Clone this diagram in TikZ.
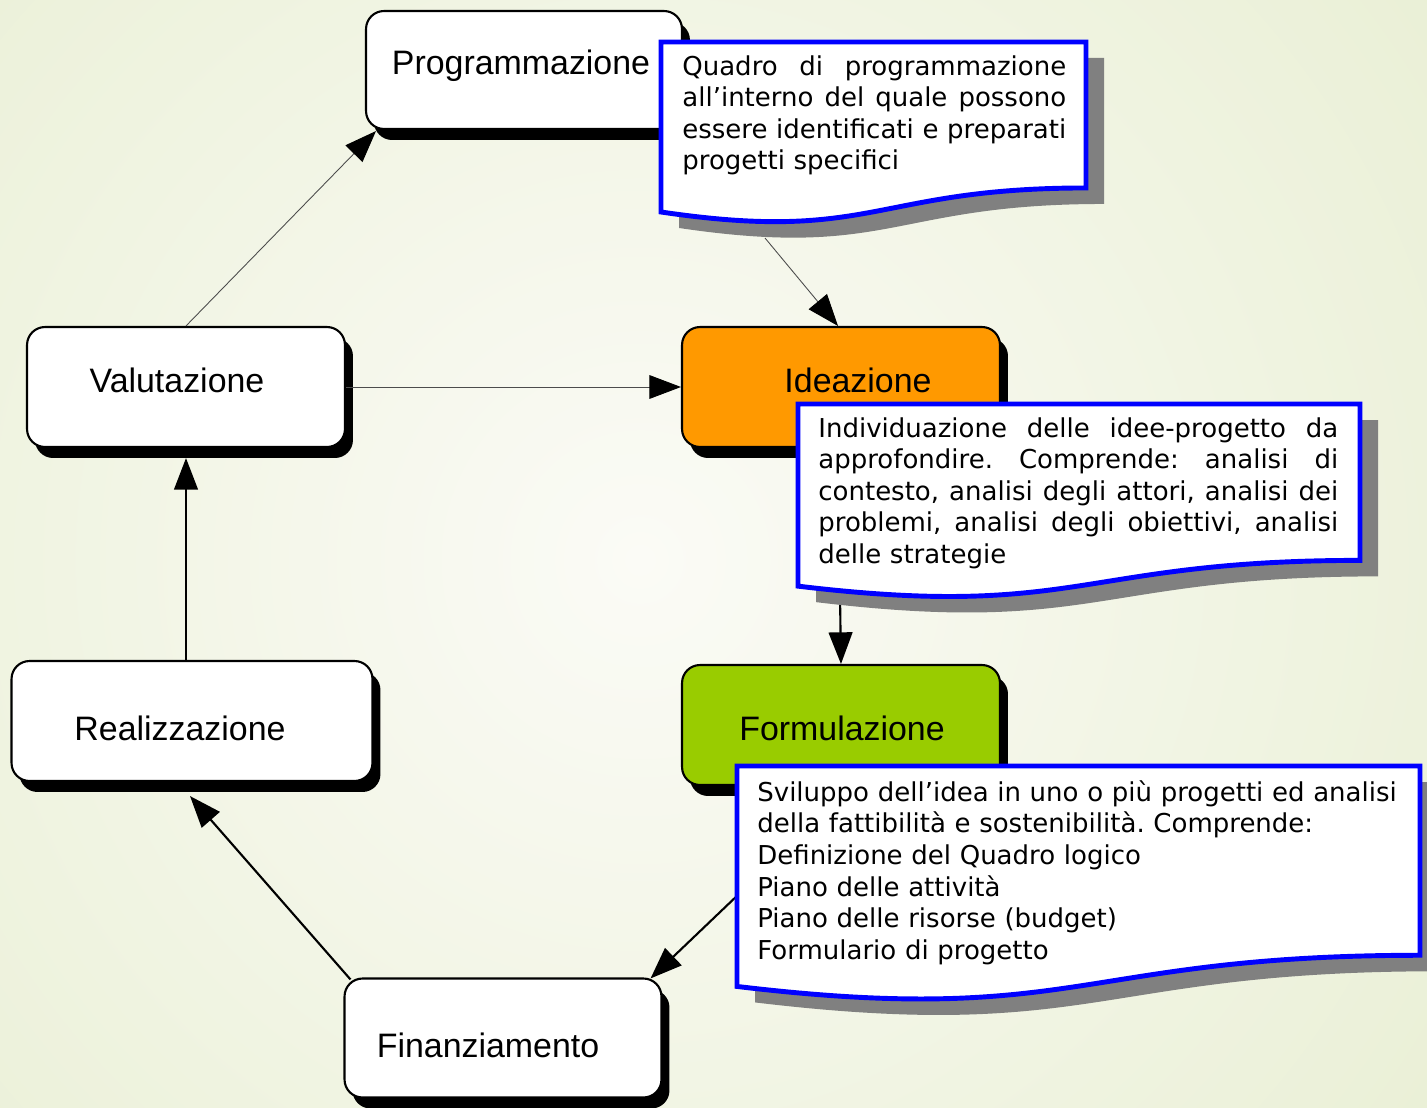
\documentclass[tikz,border=0pt]{standalone}
\usepackage{fontspec}
\setmainfont{Liberation Sans}
\newfontfamily\notefont{DejaVu Sans}
\usetikzlibrary{arrows.meta,calc,shadows}

\definecolor{bgout}{RGB}{222,232,192}
\definecolor{bgin}{RGB}{251,251,246}
\definecolor{ideaorange}{RGB}{255,153,0}
\definecolor{formgreen}{RGB}{153,204,0}
\definecolor{noteblue}{RGB}{0,0,255}
\definecolor{notegray}{RGB}{128,128,128}

% callout with a wavy bottom: options, left, top, right, height
\newcommand\docshape[5]{%
  \path[#1] (#2,#3) -- (#4,#3) -- (#4,{#3+0.802*#5})
    .. controls ({(#2+#4)/2},{#3+0.802*#5}) and ({(#2+#4)/2},{#3+1.107*#5}) .. (#2,{#3+0.934*#5}) -- cycle;}
% one justified line of a callout text
\newcommand\jline[2]{\makebox[#1][s]{\spaceskip=0pt\xspaceskip=0pt #2}}

\tikzset{
  stage/.style={draw, line width=1.2pt, rounded corners=0.36cm, fill=white, inner sep=0pt,
    drop shadow={shadow xshift=0.16cm, shadow yshift=-0.22cm, fill=black, opacity=1}},
  stagelabel/.style={anchor=base, inner sep=0pt, font=\fontsize{19.3}{22}\selectfont},
  notetext/.style={anchor=north west, inner sep=0pt, align=left,
    font=\notefont\fontsize{14.8}{18}\selectfont\frenchspacing},
  flow/.style={line width=1.2pt, -{Triangle[length=18pt,width=13.5pt]}},
  thinflow/.style={line width=0.5pt, draw=black!70, -{Triangle[length=18pt,width=13.5pt,color=black]}},
}

\begin{document}
\begin{tikzpicture}[x=0.02cm, y=-0.02cm]
  \useasboundingbox (0,0) rectangle (1427,1108);

  % background
  \begin{scope}
    \clip (0,0) rectangle (1427,1108);
    \fill[bgout] (0,0) rectangle (1427,1108);
    \shade[inner color=bgin, outer color=bgout] (640,560) circle (1650);
  \end{scope}

  % stages of the cycle
  \node[stage, minimum width=6.32cm, minimum height=2.36cm] (prog) at (524,70) {};
  \node[stage, minimum width=6.36cm, minimum height=2.4cm] (val) at (186,387) {};
  \node[stage, minimum width=6.36cm, minimum height=2.4cm, fill=ideaorange] (ide) at (841,387) {};
  \node[stage, minimum width=7.22cm, minimum height=2.4cm] (real) at (192,721) {};
  \node[stage, minimum width=6.36cm, minimum height=2.4cm, fill=formgreen] (form) at (841,725) {};
  \node[stage, minimum width=6.34cm, minimum height=2.38cm] (fin) at (503,1038) {};

  \node[stagelabel] (progLabel) at (521,75) {Programmazione};
  \node[stagelabel] (valLabel) at (177,392) {Valutazione};
  \node[stagelabel] (ideLabel) at (858,392) {Ideazione};
  \node[stagelabel] (realLabel) at (180,740) {Realizzazione};
  \node[stagelabel] (formLabel) at (842,740) {Formulazione};
  \node[stagelabel] (finLabel) at (488,1057) {Finanziamento};

  % connectors
  \coordinate (progTail) at (765,238);
  \coordinate (ideTail) at (840,595);
  \coordinate (formTail) at (740,893);

  \draw[thinflow] (val.north) -- ($(prog.south west)+(11,1)$);
  \draw[thinflow] (progTail) -- ($(ide.north)+(-3,0)$);
  \draw[thinflow] (val.east) -- (ide.west);
  \draw[flow] (ideTail) -- (form.north);
  \draw[flow] (formTail) -- ($(fin.north east)+(-12,1)$);
  \draw[flow] ($(fin.north west)+(7,2)$) -- ($(real.south)+(-2,14)$);
  \draw[flow] (real.north -| val.south) -- ($(val.south)+(0,10)$);

  % callouts
  \docshape{fill=notegray, shift={(18,16)}}{661}{42}{1086}{182}
  \docshape{fill=white, draw=noteblue, line width=2.8pt}{661}{42}{1086}{182}
  \node[notetext, text width=7.68cm] (progNote) at (682,55) {%
    \jline{7.68cm}{Quadro di programmazione}\\
    \jline{7.68cm}{all’interno del quale possono}\\
    \jline{7.68cm}{essere identificati e preparati}\\
    progetti specifici};

  \docshape{fill=notegray, shift={(18,16)}}{798}{404}{1360}{195}
  \docshape{fill=white, draw=noteblue, line width=2.8pt}{798}{404}{1360}{195}
  \node[notetext, text width=10.4cm] (ideNote) at (818,417) {%
    \jline{10.4cm}{Individuazione delle idee-progetto da}\\
    \jline{10.4cm}{approfondire. Comprende: analisi di}\\
    \jline{10.4cm}{contesto, analisi degli attori, analisi dei}\\
    \jline{10.4cm}{problemi, analisi degli obiettivi, analisi}\\
    delle strategie};

  \docshape{fill=notegray, shift={(18,16)}}{737}{766}{1420}{236}
  \docshape{fill=white, draw=noteblue, line width=2.8pt}{737}{766}{1420}{236}
  \node[notetext, text width=12.82cm] (formNote) at (757,780) {%
    Sviluppo dell’idea in uno o più progetti ed analisi\\
    della fattibilità e sostenibilità. Comprende:\\
    Definizione del Quadro logico\\
    Piano delle attività\\
    Piano delle risorse (budget)\\
    Formulario di progetto};
\end{tikzpicture}
\end{document}
